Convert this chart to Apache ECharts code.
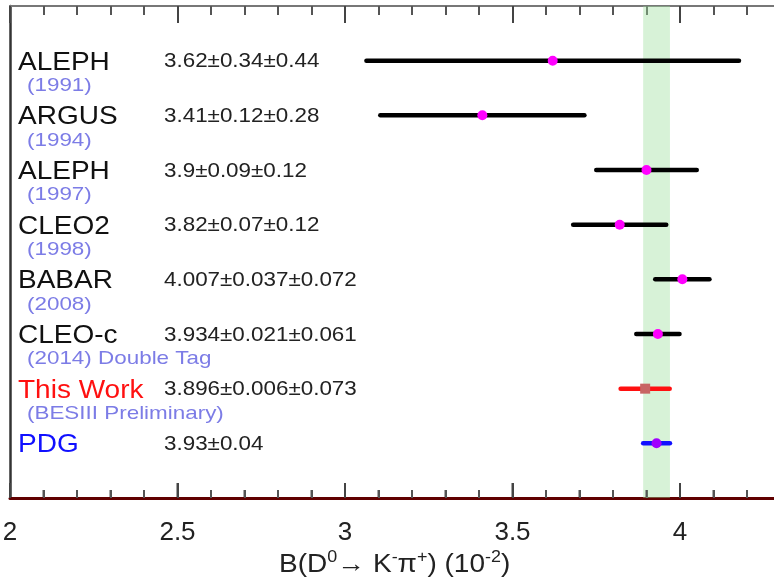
<!DOCTYPE html>
<html><head><meta charset="utf-8">
<script src="https://cdn.jsdelivr.net/npm/echarts@6/dist/echarts.min.js"></script>
<style>html,body{margin:0;padding:0;background:#fff}#c{width:774px;height:583px}</style>
</head><body><div id="c"></div>
<script>
// ---- data ----
const experiments = ['ALEPH','ARGUS','ALEPH','CLEO2','BABAR','CLEO-c','This Work','PDG'];
const subLabels = ['(1991)','(1994)','(1997)','(1998)','(2008)','(2014) Double Tag','(BESIII Preliminary)',''];
const centralValues = [3.62,3.41,3.9,3.82,4.007,3.934,3.896,3.93];
const statErrors = [0.34,0.12,0.09,0.07,0.037,0.021,0.006,0.04];
const systErrors = [0.44,0.28,0.12,0.12,0.072,0.061,0.073,0];
const resultTexts = ['3.62±0.34±0.44','3.41±0.12±0.28','3.9±0.09±0.12','3.82±0.07±0.12','4.007±0.037±0.072','3.934±0.021±0.061','3.896±0.006±0.073','3.93±0.04'];
const xMin = 2, xMax = 4.5, xStep = 0.5;
const majorTicks = [2, 2.5, 3, 3.5, 4, 4.5];
const minorTicks = [2.1,2.2,2.3,2.4, 2.6,2.7,2.8,2.9, 3.1,3.2,3.3,3.4, 3.6,3.7,3.8,3.9, 4.1,4.2,4.3,4.4];
const pdgAverage = 3.93, pdgError = 0.04;

// ---- styles ----
const FONT = 'Liberation Sans, Arial, Helvetica, sans-serif';
function styleFor(name){
  if (name === 'This Work') return {name:'#ff1010', bar:'#ff1010', marker:'#c86464', square:true};
  if (name === 'PDG') return {name:'#1010ff', bar:'#1010ff', marker:'#a000ff', square:false};
  return {name:'#111', bar:'#000', marker:'#ff00ff', square:false};
}

const rows = centralValues.map((v,i)=>{
  const tot = Math.sqrt(statErrors[i]*statErrors[i] + systErrors[i]*systErrors[i]);
  return [v, i+1, v - tot, v + tot];
});

function renderItem(params, api){
  const i = params.dataIndex;
  const row = api.value(1);
  const c = api.coord([api.value(0), row]);
  const lo = api.coord([api.value(2), row]);
  const hi = api.coord([api.value(3), row]);
  const x0 = api.coord([xMin, row])[0];
  const st = styleFor(experiments[i]);
  const children = [
    {type:'line', shape:{x1:lo[0],y1:lo[1],x2:hi[0],y2:hi[1]}, style:{stroke:st.bar, lineWidth:4.5, lineCap:'round'}},
    st.square
      ? {type:'rect', shape:{x:c[0]-5,y:c[1]-5,width:10,height:10}, style:{fill:st.marker}}
      : {type:'circle', shape:{cx:c[0],cy:c[1],r:5}, style:{fill:st.marker}},
    {type:'text', x:x0+8, y:c[1]+2, scaleX:1.12, style:{text:experiments[i], fill:st.name, fontSize:25, fontFamily:FONT, align:'left', verticalAlign:'middle'}},
    {type:'text', x:x0+154, y:c[1]+1, scaleX:1.12, style:{text:resultTexts[i], fill:'#222', fontSize:20, fontFamily:FONT, align:'left', verticalAlign:'middle'}}
  ];
  if (subLabels[i]) children.push({type:'text', x:x0+17, y:c[1]+25, scaleX:1.18, style:{text:subLabels[i], fill:'#7c7ce6', fontSize:19, fontFamily:FONT, align:'left', verticalAlign:'middle'}});
  return {type:'group', children};
}

// bottom tick marks, placed through the x axis scale (pointing up into the plot)
function tickRenderer(len, color){
  return function(params, api){
    const base = api.coord([api.value(0), 9]);
    return {type:'line', shape:{x1:base[0], y1:base[1]-1, x2:base[0], y2:base[1]-len},
      style:{stroke:color, lineWidth:2}};
  };
}

const chart = echarts.init(document.getElementById('c'), null, {renderer:'canvas'});
const gridBase = {left:10, right:-73.5, top:6, bottom:85, outerBoundsMode:'none', containLabel:false};
chart.setOption({
  animation:false,
  backgroundColor:'#fff',
  grid:[Object.assign({}, gridBase), Object.assign({}, gridBase)],
  xAxis:[
    {
      gridIndex:0, type:'value', min:xMin, max:xMax, interval:xStep, position:'bottom',
      splitLine:{show:false},
      axisLine:{show:true, onZero:false, lineStyle:{color:'#600000', width:3}},
      axisTick:{show:true, inside:true, length:15, lineStyle:{color:'#444', width:2}},
      minorTick:{show:true, splitNumber:5, length:8, lineStyle:{color:'#555', width:2}},
      axisLabel:{show:true, fontSize:26, color:'#222', fontFamily:FONT, margin:22, showMaxLabel:false}
    },
    {
      gridIndex:1, type:'value', min:xMin, max:xMax, interval:xStep, position:'top',
      splitLine:{show:false},
      axisLine:{show:true, onZero:false, lineStyle:{color:'#777', width:2}},
      axisTick:{show:true, inside:true, length:17, lineStyle:{color:'#444', width:2}},
      minorTick:{show:true, splitNumber:5, length:9, lineStyle:{color:'#555', width:2}},
      axisLabel:{show:false}
    }
  ],
  yAxis:[
    {gridIndex:0, type:'value', min:0, max:9, inverse:true, axisLabel:{show:false}, axisTick:{show:false}, splitLine:{show:false},
      axisLine:{show:true, onZero:false, lineStyle:{color:'#333', width:2.5}}},
    {gridIndex:1, type:'value', min:0, max:1, show:false}
  ],
  graphic:[{
    type:'text', x:279, y:550, scaleX:1.12,
    style:{
      text:'{b|B(D}{s|0}{b|→ K}{s|-}{b|π}{s|+}{b|) (10}{s|-2}{b|)}',
      fill:'#222',
      rich:{
        b:{fontSize:25, lineHeight:30, fontFamily:FONT, fill:'#222'},
        s:{fontSize:16, lineHeight:14, verticalAlign:'top', fontFamily:FONT, fill:'#222'}
      }
    }
  }],
  series:[
    {type:'line', data:[], z:1, silent:true, xAxisIndex:0, yAxisIndex:0,
      markArea:{silent:true, itemStyle:{color:'rgba(155,222,155,0.4)'},
        data:[[{xAxis:pdgAverage - pdgError},{xAxis:pdgAverage + pdgError}]]}},
    {type:'custom', z:4, silent:true, clip:false, xAxisIndex:0, yAxisIndex:0,
      data:majorTicks.map(v=>[v]), renderItem:tickRenderer(15, '#444')},
    {type:'custom', z:4, silent:true, clip:false, xAxisIndex:0, yAxisIndex:0,
      data:minorTicks.map(v=>[v]), renderItem:tickRenderer(8, '#555')},
    {type:'custom', z:3, data:rows, renderItem:renderItem, clip:false, xAxisIndex:0, yAxisIndex:0}
  ]
});
</script></body></html>
